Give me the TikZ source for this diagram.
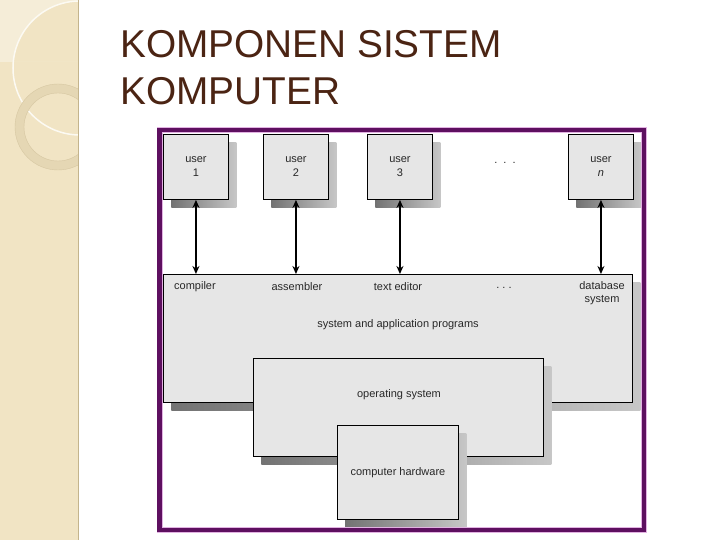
\documentclass[tikz,border=0pt]{standalone}
\usepackage{fontspec}
\setmainfont{Liberation Sans}
\usetikzlibrary{arrows.meta, positioning, shadows}
\definecolor{slideBeige}{RGB}{241,228,196}
\definecolor{beigeEdge}{RGB}{196,180,140}
\definecolor{ringBeige}{RGB}{229,215,180}
\definecolor{titleBrown}{RGB}{75,36,19}
\definecolor{framePurple}{RGB}{94,16,96}
\definecolor{framePink}{RGB}{226,178,226}
\definecolor{boxGray}{RGB}{230,230,230}
\definecolor{txtGray}{RGB}{40,40,40}
\tikzset{
  os/box/.style={rectangle, draw=black, fill=boxGray, line width=0.9pt,
    inner sep=0pt, anchor=north west, align=center,
    font=\fontsize{11}{14}\selectfont\color{txtGray},
    drop shadow={shadow xshift=8pt, shadow yshift=-8pt, opacity=1,
      left color=black!55, right color=black!22}},
  os/txt/.style={font=\fontsize{11}{13}\selectfont\color{txtGray},
    align=center, inner sep=1pt},
  os/arr/.style={{Stealth[length=8pt,width=7pt]}-{Stealth[length=8pt,width=7pt]},
    line width=1.8pt},
  os/title/.style={font=\fontsize{38.8}{47}\selectfont\color{titleBrown},
    anchor=base west, inner sep=0pt}
}

\begin{document}
\begin{tikzpicture}[x=1pt, y=-1pt]
  \useasboundingbox (0,0) rectangle (720,540);
  \fill[white] (0,0) rectangle (720,540);

  % left strip of the slide
  \fill[slideBeige] (0,0) rectangle (78,540);
  \begin{scope}
    \clip (0,0) rectangle (78,62);
    \fill[white, opacity=0.35, even odd rule] (0,0) rectangle (78,62) (80,68) circle (67);
  \end{scope}
  \begin{scope}
    \clip (0,0) rectangle (78,540);
    \draw[white!80!slideBeige, line width=1.5pt] (80,68) circle (67);
    \fill[ringBeige, even odd rule] (58,127) circle (43) (58,127) circle (34);
    \draw[beigeEdge!60!slideBeige, line width=0.4pt] (58,127) circle (43) (58,127) circle (34);
  \end{scope}
  \draw[beigeEdge, line width=1pt] (78,0) -- (78,540);

  \node[os/title] (t1) at (120,58) {KOMPONEN SISTEM};
  \node[os/title] (t2) at (120,105) {KOMPUTER};

  % users
  \node[os/box, minimum width=65pt, minimum height=65pt] (u1) at (163,134) {user\\1};
  \node[os/box, minimum width=65pt, minimum height=65pt] (u2) at (263,134) {user\\2};
  \node[os/box, minimum width=65pt, minimum height=65pt] (u3) at (367,134) {user\\3};
  \node[os/box, minimum width=65pt, minimum height=65pt] (un) at (568,134) {user\\\textit{n}};
  \node[os/txt] (udots) at (505,163) {.\ \ .\ \ .};

  % layers
  \node[os/box, minimum width=469pt, minimum height=128pt] (apps) at (163,274) {};
  \node[os/txt] (comp) at (195,287) {compiler};
  \node[os/txt] (asm) at (297,287) {assembler};
  \node[os/txt] (ted) at (398,287) {text editor};
  \node[os/txt] (adots) at (504,288) {.\ .\ .};
  \node[os/txt] (db) at (602,293) {database\\system};
  \node[os/txt] (sap) at (398,325) {system and application programs};

  \node[os/box, minimum width=290pt, minimum height=98pt] (opsys) at (253,358) {};
  \node[os/txt] (ostxt) at (399,395) {operating system};

  \node[os/box, minimum width=121pt, minimum height=94pt] (hw) at (337,425) {computer hardware};

  \draw[os/arr] (u1.south) -- (u1.south |- apps.north);
  \draw[os/arr] (u2.south) -- (u2.south |- apps.north);
  \draw[os/arr] (u3.south) -- (u3.south |- apps.north);
  \draw[os/arr] (un.south) -- (un.south |- apps.north);

  % frame
  \draw[framePink, line width=0.8pt] (157,127.5) rectangle (646,532.5);
  \draw[framePurple, line width=4.2pt] (159.5,130) rectangle (643.5,530);
  \draw[framePink, line width=0.8pt] (162,132.5) rectangle (641,527.5);
\end{tikzpicture}
\end{document}
